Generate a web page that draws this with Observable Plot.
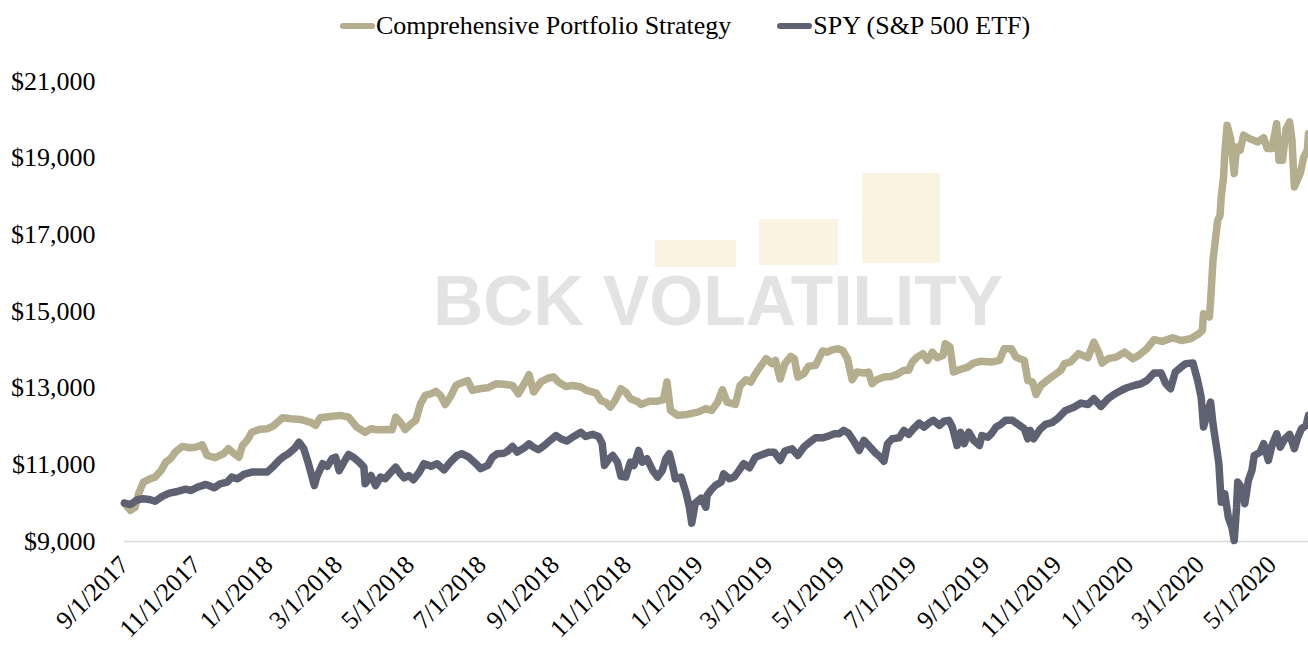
<!DOCTYPE html>
<html>
<head>
<meta charset="utf-8">
<script src="https://cdn.jsdelivr.net/npm/d3@7"></script>
<script src="https://cdn.jsdelivr.net/npm/@observablehq/plot@0.6"></script>
<style>
  html, body { margin: 0; padding: 0; background: #fff; }
  #page { position: relative; width: 1308px; height: 645px; overflow: hidden; font-family: "Liberation Serif", "Times New Roman", serif; }
  #legend { position: absolute; left: 340px; top: 10px; height: 32px; display: flex; align-items: center; font-size: 26px; color: #000; white-space: nowrap; }
  .item { display: flex; align-items: center; }
  .item + .item { margin-left: 46px; }
  .sw { width: 35px; height: 6px; border-radius: 3px; margin-right: 1px; }
  #watermark { position: absolute; left: 0; top: 0; }
  #chart { position: absolute; left: 0; top: 55px; }
</style>
</head>
<body>
<div id="page">
  <svg id="watermark" width="1308" height="645">
    <rect x="655" y="240" width="81" height="27" fill="#faf3e2"/>
    <rect x="759" y="219" width="79" height="46" fill="#faf3e2"/>
    <rect x="862" y="173" width="78" height="90" fill="#faf3e2"/>
    <text x="433" y="325" font-family="Liberation Sans, Arial, sans-serif" font-weight="bold" font-size="69.5" fill="#e3e3e3">BCK VOLATILITY</text>
  </svg>
  <div id="legend"></div>
  <div id="chart"></div>
</div>
<script>
// Series names and colours
const seriesNames = ["Comprehensive Portfolio Strategy", "SPY (S&P 500 ETF)"];
const seriesColors = ["#b4ad8e", "#5d6172"];

// Dates are days since 9/1/2017
const startDate = "2017-09-01";
const endDay = 1004;

// Comprehensive Portfolio Strategy
const portfolioDays = [0,5,9,12,16,22,26,31,35,39,43,49,55,60,66,70,77,84,88,93,97,100,104,108,114,121,127,134,141,149,158,162,166,175,183,190,197,204,209,214,223,227,230,234,238,243,247,251,255,260,264,268,272,277,281,285,291,295,301,308,315,322,329,334,339,343,347,353,359,364,368,374,380,387,392,400,404,408,412,416,421,425,429,435,438,445,452,457,460,463,469,477,486,493,498,503,507,511,518,522,527,531,535,539,544,549,552,556,560,565,568,571,576,580,586,592,596,600,605,609,613,617,621,627,631,634,638,644,650,655,661,665,668,672,677,681,685,689,694,696,700,703,708,715,720,726,735,742,746,752,756,763,766,770,773,777,783,788,794,797,802,809,817,822,826,829,834,841,848,855,860,867,873,880,889,896,904,911,914,915,920,921,923,925,927,929,930,932,933,935,938,941,943,946,949,954,961,966,969,973,977,979,982,985,988,990,992,995,997,1000,1003,1004];
const portfolioValues = [10000,9810,9895,10250,10550,10640,10680,10850,11070,11160,11330,11480,11445,11460,11520,11245,11185,11290,11420,11290,11200,11505,11640,11850,11920,11940,12030,12230,12200,12185,12110,12030,12230,12260,12290,12245,11985,11850,11940,11915,11920,11915,12245,12110,11920,12070,12160,12590,12810,12855,12920,12810,12575,12810,13070,13130,13200,12940,12985,13010,13115,13100,13070,12855,13115,13350,12900,13160,13260,13290,13160,13045,13070,13030,12940,12870,12680,12635,12505,12680,12985,12900,12725,12655,12575,12660,12660,12700,13160,12420,12290,12315,12375,12465,12420,12635,12960,12635,12575,13070,13220,13160,13375,13550,13770,13640,13725,13245,13640,13830,13770,13290,13375,13570,13595,13970,13940,14000,14030,13985,13770,13220,13420,13395,13420,13115,13220,13290,13305,13360,13465,13465,13680,13810,13900,13725,13940,13795,13855,14160,14070,13420,13480,13550,13655,13700,13680,13725,14030,14030,13810,13725,13200,13160,12835,13070,13220,13330,13465,13640,13680,13900,13795,14200,13940,13655,13770,13810,13940,13770,13855,14030,14265,14220,14315,14245,14290,14420,14505,14940,14855,15290,16335,16855,17380,17510,17990,18510,19120,19860,19510,18600,19290,19205,19600,19510,19420,19535,19250,19250,19900,18945,18945,19770,19945,19465,18250,18465,18600,19030,19205,19640];

// SPY (S&P 500 ETF)
const spyDays = [0,5,11,16,22,26,32,38,45,52,56,62,69,76,81,87,91,96,101,108,114,121,127,131,135,139,144,148,152,156,161,163,168,172,176,179,182,186,190,194,199,203,204,209,213,217,221,226,230,234,237,241,245,250,254,260,265,271,277,282,286,292,298,302,308,312,316,322,325,329,333,339,343,347,351,356,361,366,370,375,381,387,391,397,402,405,407,411,414,418,421,425,429,432,436,439,443,448,452,456,459,462,465,467,472,476,479,481,484,489,493,494,497,501,506,508,513,517,521,525,530,535,541,546,551,556,560,566,571,576,581,586,592,596,602,606,610,614,619,623,627,631,637,641,644,647,651,657,661,665,669,674,678,682,686,691,695,699,702,706,709,712,716,720,725,727,732,735,739,743,747,753,759,763,766,768,771,776,781,787,792,798,805,811,817,822,828,834,839,845,850,856,862,867,873,879,883,887,891,896,900,906,910,913,915,918,921,923,926,928,930,933,936,939,941,943,944,947,950,953,956,958,963,966,970,973,977,980,984,988,992,995,998,1002,1004];
const spyValues = [10000,9965,10090,10115,10090,10050,10175,10260,10305,10365,10330,10420,10490,10400,10505,10550,10680,10635,10750,10810,10810,10810,10985,11115,11220,11290,11420,11590,11420,11030,10460,10680,11030,10960,11160,11200,10850,11070,11270,11200,11070,10940,10505,10720,10460,10680,10635,10810,10940,10765,10660,10720,10610,10810,11030,10960,11030,10870,11095,11245,11290,11200,11030,10900,10985,11200,11290,11305,11360,11480,11330,11445,11550,11460,11395,11505,11640,11765,11680,11620,11740,11850,11740,11795,11740,11565,10985,11160,11245,11070,10700,10680,11070,10985,11375,11070,11160,10850,10680,10850,11160,11290,10940,10635,10680,10290,9895,9480,10000,10130,9895,10200,10330,10460,10550,10765,10635,10680,10850,11030,10925,11200,11270,11330,11330,11115,11360,11420,11245,11460,11590,11705,11705,11740,11810,11810,11900,11825,11590,11375,11640,11505,11305,11200,11095,11550,11680,11705,11900,11795,11940,12090,11985,12090,12160,12030,12140,12160,11985,11505,11850,11550,11850,11640,11505,11765,11720,11810,11985,12055,12160,12160,12030,11940,11680,11900,11680,11915,12055,12110,12230,12420,12505,12610,12575,12725,12525,12725,12835,12940,13010,13070,13115,13200,13395,13395,13115,12985,13420,13550,13640,13655,13200,12765,11985,12335,12635,12070,11460,11030,10025,10245,9635,9375,9025,9895,10550,10420,9985,10590,10850,11245,11330,11550,11115,11505,11810,11460,11680,11795,11420,11720,11940,12030,12290];

// Axis ticks
const xTickLabels = ["9/1/2017","11/1/2017","1/1/2018","3/1/2018","5/1/2018","7/1/2018","9/1/2018","11/1/2018","1/1/2019","3/1/2019","5/1/2019","7/1/2019","9/1/2019","11/1/2019","1/1/2020","3/1/2020","5/1/2020"];
const yTicks = [9000, 11000, 13000, 15000, 17000, 19000, 21000];

const start = new Date(startDate + "T00:00:00Z");
const toDate = (n) => d3.utcDay.offset(start, n);
const parseLabel = (s) => { const [m, d, y] = s.split("/").map(Number); return new Date(Date.UTC(y, m - 1, d)); };
const xTickDates = xTickLabels.map(parseLabel);
const labelByTime = new Map(xTickDates.map((d, i) => [+d, xTickLabels[i]]));

const rows = [
  ...portfolioDays.map((d, i) => ({series: seriesNames[0], date: toDate(d), value: portfolioValues[i]})),
  ...spyDays.map((d, i) => ({series: seriesNames[1], date: toDate(d), value: spyValues[i]}))
];

const fmt = d3.format(",");
const chart = Plot.plot({
  width: 1308,
  height: 590,
  marginLeft: 124,
  marginRight: 0,
  marginTop: 26,
  marginBottom: 104,
  style: {fontFamily: "'Liberation Serif', 'Times New Roman', serif", fontSize: "26px", color: "#000", background: "transparent", overflow: "visible"},
  x: {type: "utc", domain: [start, toDate(endDay)], label: null},
  y: {domain: [9000, 21000], ticks: yTicks, tickFormat: d => "$" + fmt(d), tickSize: 0, tickPadding: 29, label: null},
  color: {domain: seriesNames, range: seriesColors},
  marks: [
    Plot.axisX({ticks: xTickDates, tickFormat: d => labelByTime.get(+d), tickRotate: -45, tickSize: 0, tickPadding: 19, fontSize: 25.5, label: null}),
    Plot.ruleY([9000], {stroke: "#d9d9d9", strokeWidth: 1.5}),
    Plot.line(rows, {x: "date", y: "value", z: "series", stroke: "series", strokeWidth: 7.5, strokeLinejoin: "round", strokeLinecap: "round"})
  ]
});
document.getElementById("chart").appendChild(chart);

const legend = document.getElementById("legend");
seriesNames.forEach((name, i) => {
  const item = document.createElement("div");
  item.className = "item";
  const sw = document.createElement("div");
  sw.className = "sw";
  sw.style.background = seriesColors[i];
  const label = document.createElement("span");
  label.textContent = name;
  item.appendChild(sw);
  item.appendChild(label);
  legend.appendChild(item);
});
</script>
</body>
</html>
